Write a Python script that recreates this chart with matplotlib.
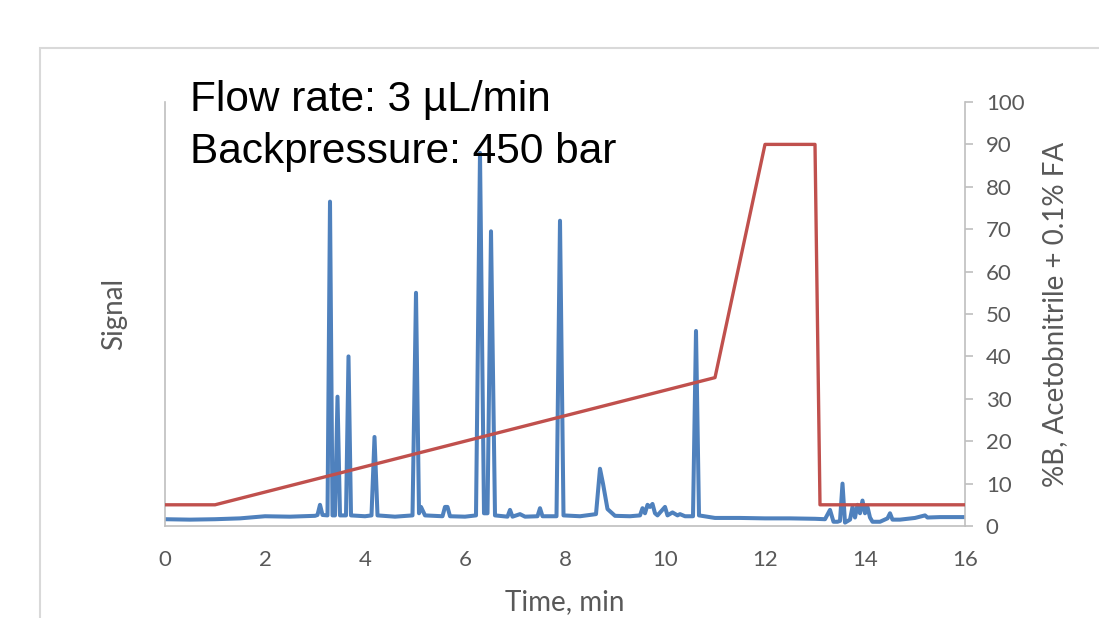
import matplotlib
matplotlib.use("Agg")
import matplotlib.pyplot as plt
from matplotlib.patches import Rectangle

# Chromatogram trace (time in min, signal on a 0-100 scale)
signal_time = [
    0.0, 0.5, 1.0, 1.5, 2.0, 2.5, 3.0,
    3.05, 3.1, 3.15,
    3.25, 3.3, 3.35,
    3.4, 3.45, 3.5,
    3.62, 3.67, 3.72,
    4.0, 4.13, 4.19, 4.25, 4.6,
    4.95, 5.02, 5.08, 5.12, 5.2,
    5.55, 5.6, 5.65, 5.7, 6.0,
    6.22, 6.3, 6.38, 6.45, 6.52, 6.6,
    6.85, 6.9, 6.95, 7.1, 7.2, 7.45, 7.5, 7.55,
    7.83, 7.9, 7.97,
    8.3, 8.62, 8.7, 8.76, 8.85, 9.0, 9.3,
    9.5, 9.55, 9.6, 9.65, 9.7, 9.75, 9.8, 9.85, 10.0, 10.05, 10.15, 10.25, 10.3, 10.4,
    10.56, 10.62, 10.68,
    11.0, 11.5, 12.0, 12.5, 13.0, 13.2, 13.3, 13.37, 13.45, 13.5, 13.55, 13.6,
    13.7, 13.75, 13.8, 13.85, 13.9, 13.95, 14.0, 14.05, 14.1, 14.15, 14.3,
    14.45, 14.5, 14.55, 14.7, 15.0, 15.2, 15.25, 15.5, 16.0,
]
signal_value = [
    1.6, 1.5, 1.6, 1.8, 2.3, 2.2, 2.4,
    2.6, 5.0, 2.6,
    2.5, 76.5, 2.5,
    2.5, 30.5, 2.5,
    2.5, 40.0, 2.5,
    2.3, 2.5, 21.0, 2.5, 2.2,
    2.5, 55.0, 3.0, 4.5, 2.5,
    2.3, 4.5, 4.5, 2.3, 2.2,
    2.5, 88.0, 3.0, 3.0, 69.5, 2.5,
    2.2, 3.8, 2.2, 2.8, 2.2, 2.3, 4.2, 2.3,
    2.3, 72.0, 2.5,
    2.3, 2.8, 13.5, 10.0, 4.0, 2.4, 2.3,
    2.5, 4.2, 3.0, 5.0, 4.5, 5.2, 3.0, 2.5, 4.5, 2.5, 3.2, 2.5, 2.8, 2.3,
    2.3, 46.0, 2.5,
    1.9, 1.9, 1.8, 1.8, 1.7, 1.6, 3.8, 1.0, 1.0, 1.2, 10.0, 0.8,
    1.5, 4.5, 2.0, 5.0, 3.0, 6.0, 3.0, 4.5, 2.0, 1.0, 1.0,
    1.8, 3.0, 1.5, 1.5, 1.9, 2.5, 2.0, 2.1, 2.1,
]

# Gradient program (%B)
gradient_time = [0, 1, 11, 12, 13, 13.1, 16]
gradient_b = [5, 5, 35, 90, 90, 5, 5]

x_ticks = [0, 2, 4, 6, 8, 10, 12, 14, 16]
b_ticks = [0, 10, 20, 30, 40, 50, 60, 70, 80, 90, 100]

blue = "#4F81BD"
red = "#C0504D"
grey_text = "#595959"
grey_line = "#BFBFBF"

plt.rcParams["font.family"] = ["Lato", "DejaVu Sans"]

fig = plt.figure(figsize=(10.99, 6.18), dpi=100)

# outer chart border (only top and left are visible in the crop)
fig.patches.append(Rectangle((40 / 1099, -0.1), 1.2, (618 - 48) / 618 + 0.1,
                             transform=fig.transFigure, fill=False,
                             edgecolor="#D9D9D9", linewidth=1.5))

ax = fig.add_axes([165 / 1099, 92 / 618, 800 / 1099, 424 / 618])
ax.plot(signal_time, signal_value, color=blue, linewidth=2.9,
        solid_joinstyle="round", zorder=2)
ax.set_xlim(0, 16)
ax.set_ylim(0, 100)
ax.set_yticks([])
ax.set_xticks(x_ticks)
ax.set_xticklabels([str(t) for t in x_ticks])
ax.tick_params(axis="x", length=0, pad=17, labelsize=16, labelcolor=grey_text)
for side in ["top", "right"]:
    ax.spines[side].set_visible(False)
for side in ["left", "bottom"]:
    ax.spines[side].set_color(grey_line)
    ax.spines[side].set_linewidth(1.2)
ax.set_ylabel("Signal", fontsize=20, color=grey_text, labelpad=27)
ax.set_xlabel("Time, min", fontsize=20, color=grey_text, labelpad=14)

ax2 = ax.twinx()
ax2.plot(gradient_time, gradient_b, color=red, linewidth=2.4, zorder=3)
ax2.set_ylim(0, 100)
ax2.set_yticks(b_ticks)
ax2.tick_params(axis="y", length=6, width=1.2, color=grey_line, pad=9,
                labelsize=16, labelcolor=grey_text)
for side in ["top", "left", "bottom"]:
    ax2.spines[side].set_visible(False)
ax2.spines["right"].set_color(grey_line)
ax2.spines["right"].set_linewidth(1.2)
ax2.set_ylabel("%B, Acetobnitrile + 0.1% FA", fontsize=20, color=grey_text,
               labelpad=13)

fig.text(190 / 1099, 1 - 100 / 618, "Flow rate: 3 \u00b5L/min",
         fontsize=30.5, family=["Liberation Sans", "DejaVu Sans"],
         color="black", va="center", ha="left")
fig.text(190 / 1099, 1 - 152 / 618, "Backpressure: 450 bar",
         fontsize=30.5, family=["Liberation Sans", "DejaVu Sans"],
         color="black", va="center", ha="left")

fig.savefig("out.png", dpi=100)
